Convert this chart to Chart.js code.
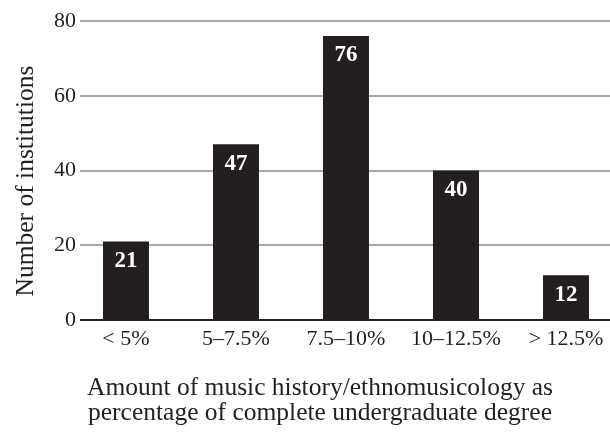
<!DOCTYPE html>
<html>
<head>
<meta charset="utf-8">
<script src="https://cdn.jsdelivr.net/npm/chart.js@4/dist/chart.umd.min.js"></script>
<style>
  html, body { margin: 0; padding: 0; background: #ffffff; }
  #wrap { width: 610px; height: 434px; }
</style>
</head>
<body>
<div id="wrap"><canvas id="c" width="610" height="434"></canvas></div>
<script>
// Share of music history / ethnomusicology in the undergraduate degree
const categories = ['< 5%', '5\u20137.5%', '7.5\u201310%', '10\u201312.5%', '> 12.5%'];
const institutions = [21, 47, 76, 40, 12];
const yTicks = [0, 20, 40, 60, 80];
const xTitle = ['Amount of music history/ethnomusicology as', 'percentage of complete undergraduate degree'];
const yTitle = 'Number of institutions';

const INK = '#231f20';
const FONT = "'Liberation Serif', 'Times New Roman', serif";

// white bold value written inside the top of each bar
const barValues = {
  id: 'barValues',
  afterDatasetsDraw(chart) {
    const ctx = chart.ctx;
    const meta = chart.getDatasetMeta(0);
    ctx.save();
    ctx.fillStyle = '#ffffff';
    ctx.font = 'bold 23px ' + FONT;
    ctx.textAlign = 'center';
    ctx.textBaseline = 'middle';
    meta.data.forEach((bar, i) => {
      ctx.fillText(String(institutions[i]), bar.x, bar.y + 19.5);
    });
    ctx.restore();
  }
};

// axis titles, placed against the plot area
const axisTitles = {
  id: 'axisTitles',
  afterDraw(chart) {
    const { ctx, chartArea } = chart;
    ctx.save();
    ctx.fillStyle = INK;
    ctx.font = '25.5px ' + FONT;
    ctx.textAlign = 'center';
    ctx.textBaseline = 'alphabetic';
    xTitle.forEach((line, i) => {
      ctx.fillText(line, chartArea.left + 240, chartArea.bottom + 75 + i * 25);
    });
    ctx.translate(33, chartArea.top + 160);
    ctx.rotate(-Math.PI / 2);
    ctx.fillText(yTitle, 0, 0);
    ctx.restore();
  }
};

new Chart(document.getElementById('c'), {
  type: 'bar',
  data: {
    datasets: [{
      data: institutions.map((v, i) => ({ x: i, y: v })),
      backgroundColor: INK,
      borderWidth: 0,
      barPercentage: 0.418,
      categoryPercentage: 1
    }]
  },
  options: {
    responsive: false,
    animation: false,
    layout: { padding: { top: 21, right: 0, bottom: 0, left: 0 } },
    plugins: { legend: { display: false }, tooltip: { enabled: false } },
    scales: {
      x: {
        type: 'linear',
        offset: false,
        min: -0.418,
        max: 4.4,
        afterBuildTicks(scale) { scale.ticks = categories.map((c, i) => ({ value: i })); },
        afterFit(scale) { scale.height = 114; },
        grid: { display: false, drawTicks: false, tickLength: 0 },
        border: { display: false },
        ticks: {
          color: INK,
          font: { family: FONT, size: 22 },
          padding: 6,
          maxRotation: 0,
          autoSkip: false,
          callback: (v) => categories[v]
        }
      },
      y: {
        min: 0,
        max: 80,
        afterBuildTicks(scale) { scale.ticks = yTicks.map(v => ({ value: v })); },
        afterFit(scale) { scale.width = 80; },
        border: { display: false },
        grid: {
          drawTicks: false,
          color: (c) => c.tick && c.tick.value === 0 ? INK : '#a8a8a8',
          lineWidth: 2
        },
        ticks: {
          color: INK,
          font: { family: FONT, size: 22 },
          padding: 4
        }
      }
    }
  },
  plugins: [barValues, axisTitles]
});
</script>
</body>
</html>
